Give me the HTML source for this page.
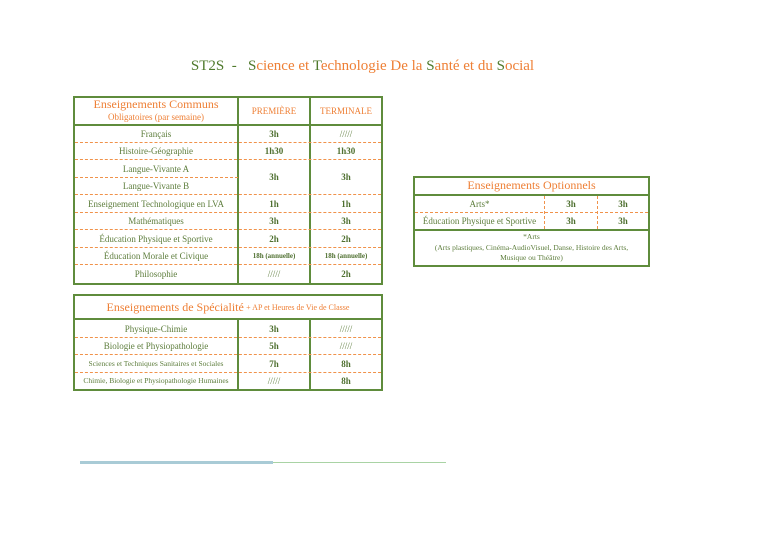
<!DOCTYPE html>
<html><head><meta charset="utf-8">
<style>
body{margin:0;width:768px;height:543px;background:#fff;position:relative;overflow:hidden;font-family:"Liberation Serif",serif;}
.a{position:absolute;box-sizing:border-box;}
.c{position:absolute;display:flex;align-items:center;justify-content:center;text-align:center;color:#5d7d3c;font-size:9px;box-sizing:border-box;white-space:nowrap;}
.b{font-weight:bold;color:#4f7030}
.o{color:#ee7f35}
.g{color:#4f7a2c}
.box{position:absolute;border:2px solid #5f8c3c;box-sizing:border-box;}
.vl{position:absolute;width:2px;background:#5f8c3c;}
.hl{position:absolute;height:2px;background:#5f8c3c;}
.dl{position:absolute;height:0;border-top:1px dashed #f0924a;}
.dv{position:absolute;width:0;border-left:1px dashed #f0924a;}
</style></head><body>

<div class="a" style="left:0;top:58px;width:725px;text-align:center;font-size:15px;white-space:nowrap">
<span class="g">ST2S &nbsp;- &nbsp; S</span><span class="o">cience et </span><span class="g">T</span><span class="o">echnologie De la </span><span class="g">S</span><span class="o">anté et du </span><span class="g">S</span><span class="o">ocial</span></div>

<!-- Table 1 -->
<div class="box" style="left:73px;top:96px;width:310px;height:189px"></div>
<div class="hl" style="left:73px;top:124px;width:310px"></div>
<div class="vl" style="left:237px;top:96px;height:189px"></div>
<div class="vl" style="left:309px;top:96px;height:189px"></div>
<div class="dl" style="left:75px;top:142px;width:306px"></div>
<div class="dl" style="left:75px;top:159px;width:306px"></div>
<div class="dl" style="left:75px;top:177px;width:163px"></div>
<div class="dl" style="left:75px;top:194px;width:306px"></div>
<div class="dl" style="left:75px;top:212px;width:306px"></div>
<div class="dl" style="left:75px;top:229px;width:306px"></div>
<div class="dl" style="left:75px;top:247px;width:306px"></div>
<div class="dl" style="left:75px;top:264px;width:306px"></div>

<div class="c o" style="left:75px;top:97px;width:162px;height:14px;font-size:12px">Enseignements Communs</div>
<div class="c o" style="left:75px;top:111px;width:162px;height:12px;font-size:9px">Obligatoires (par semaine)</div>
<div class="c o" style="left:239px;top:98px;width:70px;height:26px;font-size:9px">PREMIÈRE</div>
<div class="c o" style="left:311px;top:98px;width:70px;height:26px;font-size:9px">TERMINALE</div>

<div class="c" style="left:75px;top:125px;width:162px;height:17px">Français</div>
<div class="c b" style="left:239px;top:125px;width:70px;height:17px">3h</div>
<div class="c" style="left:311px;top:125px;width:70px;height:17px">/////</div>
<div class="c" style="left:75px;top:142px;width:162px;height:17px">Histoire-Géographie</div>
<div class="c b" style="left:239px;top:142px;width:70px;height:17px">1h30</div>
<div class="c b" style="left:311px;top:142px;width:70px;height:17px">1h30</div>
<div class="c" style="left:75px;top:160px;width:162px;height:17px">Langue-Vivante A</div>
<div class="c" style="left:75px;top:177px;width:162px;height:17px">Langue-Vivante B</div>
<div class="c b" style="left:239px;top:160px;width:70px;height:34px">3h</div>
<div class="c b" style="left:311px;top:160px;width:70px;height:34px">3h</div>
<div class="c" style="left:75px;top:195px;width:162px;height:17px">Enseignement Technologique en LVA</div>
<div class="c b" style="left:239px;top:195px;width:70px;height:17px">1h</div>
<div class="c b" style="left:311px;top:195px;width:70px;height:17px">1h</div>
<div class="c" style="left:75px;top:212px;width:162px;height:17px">Mathématiques</div>
<div class="c b" style="left:239px;top:212px;width:70px;height:17px">3h</div>
<div class="c b" style="left:311px;top:212px;width:70px;height:17px">3h</div>
<div class="c" style="left:75px;top:230px;width:162px;height:17px">Éducation Physique et Sportive</div>
<div class="c b" style="left:239px;top:230px;width:70px;height:17px">2h</div>
<div class="c b" style="left:311px;top:230px;width:70px;height:17px">2h</div>
<div class="c" style="left:75px;top:247px;width:162px;height:17px">Éducation Morale et Civique</div>
<div class="c b" style="left:239px;top:247px;width:70px;height:17px;font-size:7px">18h (annuelle)</div>
<div class="c b" style="left:311px;top:247px;width:70px;height:17px;font-size:7px">18h (annuelle)</div>
<div class="c" style="left:75px;top:265px;width:162px;height:18px">Philosophie</div>
<div class="c" style="left:239px;top:265px;width:70px;height:18px">/////</div>
<div class="c b" style="left:311px;top:265px;width:70px;height:18px">2h</div>

<!-- Table 2 -->
<div class="box" style="left:73px;top:294px;width:310px;height:97px"></div>
<div class="hl" style="left:73px;top:318px;width:310px"></div>
<div class="vl" style="left:237px;top:318px;height:73px"></div>
<div class="vl" style="left:309px;top:318px;height:73px"></div>
<div class="dl" style="left:75px;top:337px;width:306px"></div>
<div class="dl" style="left:75px;top:354px;width:306px"></div>
<div class="dl" style="left:75px;top:372px;width:306px"></div>
<div class="c" style="left:75px;top:296px;width:306px;height:22px"><span class="o" style="font-size:12px">Enseignements de Spécialité</span>&nbsp;<span class="o" style="font-size:8px">+ AP et Heures de Vie de Classe</span></div>
<div class="c" style="left:75px;top:320px;width:162px;height:17px">Physique-Chimie</div>
<div class="c b" style="left:239px;top:320px;width:70px;height:17px">3h</div>
<div class="c" style="left:311px;top:320px;width:70px;height:17px">/////</div>
<div class="c" style="left:75px;top:337px;width:162px;height:17px">Biologie et Physiopathologie</div>
<div class="c b" style="left:239px;top:337px;width:70px;height:17px">5h</div>
<div class="c" style="left:311px;top:337px;width:70px;height:17px">/////</div>
<div class="c" style="left:75px;top:355px;width:162px;height:17px;font-size:7.5px">Sciences et Techniques Sanitaires et Sociales</div>
<div class="c b" style="left:239px;top:355px;width:70px;height:17px">7h</div>
<div class="c b" style="left:311px;top:355px;width:70px;height:17px">8h</div>
<div class="c" style="left:75px;top:372px;width:162px;height:17px;font-size:7.5px">Chimie, Biologie et Physiopathologie Humaines</div>
<div class="c" style="left:239px;top:372px;width:70px;height:17px">/////</div>
<div class="c b" style="left:311px;top:372px;width:70px;height:17px">8h</div>

<!-- Table 3 -->
<div class="box" style="left:413px;top:176px;width:237px;height:91px"></div>
<div class="hl" style="left:413px;top:194px;width:237px"></div>
<div class="hl" style="left:413px;top:229px;width:237px"></div>
<div class="dv" style="left:544px;top:196px;height:33px"></div>
<div class="dv" style="left:597px;top:196px;height:33px"></div>
<div class="dl" style="left:415px;top:212px;width:233px"></div>
<div class="c o" style="left:415px;top:177px;width:233px;height:17px;font-size:12px">Enseignements Optionnels</div>
<div class="c" style="left:415px;top:196px;width:129px;height:16px">Arts*</div>
<div class="c b" style="left:545px;top:196px;width:52px;height:16px">3h</div>
<div class="c b" style="left:598px;top:196px;width:50px;height:16px">3h</div>
<div class="c" style="left:415px;top:213px;width:129px;height:16px">Éducation Physique et Sportive</div>
<div class="c b" style="left:545px;top:213px;width:52px;height:16px">3h</div>
<div class="c b" style="left:598px;top:213px;width:50px;height:16px">3h</div>
<div class="a" style="left:415px;top:232px;width:233px;text-align:center;color:#5d7d3c;font-size:7.5px;line-height:10.5px">*Arts<br>(Arts plastiques, Cinéma-AudioVisuel, Danse, Histoire des Arts,<br>Musique ou Théâtre)</div>

<!-- bottom line -->
<div class="a" style="left:80px;top:461px;width:193px;height:3px;background:#a9cbd6"></div>
<div class="a" style="left:273px;top:462px;width:173px;height:1px;background:#a9d3a4"></div>

</body></html>
